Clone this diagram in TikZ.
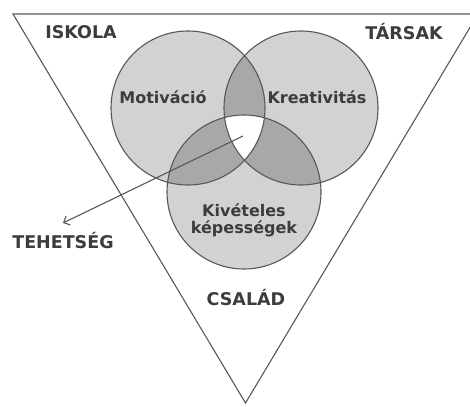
\documentclass[tikz,border=0pt]{standalone}
\usepackage{fontspec}
\newfontfamily\lblfont{DejaVu Sans}
\usetikzlibrary{arrows.meta}
\definecolor{ink}{HTML}{3C3C3C}
\definecolor{edge}{HTML}{555A55}
\definecolor{light}{HTML}{D2D2D2}
\definecolor{mid}{HTML}{A8A8A8}
\tikzset{
  inner/.style={font=\lblfont\bfseries\fontsize{16}{19}\selectfont, text=ink, align=center},
  outer/.style={font=\lblfont\bfseries\fontsize{17.5}{20}\selectfont, text=ink},
  outline/.style={draw=edge, line width=1.1pt},
  pointer/.style={draw=edge, line width=1.1pt, -{Straight Barb[length=5pt,width=10pt]}},
}
\begin{document}
\begin{tikzpicture}[x=1pt,y=-1pt]
\useasboundingbox (0,0) rectangle (470,406);
\fill[white] (0,0) rectangle (470,406);
% triangle
\coordinate (tl) at (13,14);
\coordinate (tr) at (478,14);
\coordinate (ap) at (245.5,403);
\draw[outline] (tl) -- (tr) -- (ap) -- cycle;
% circle centres
\coordinate (cA) at (188,108);
\coordinate (cB) at (301,108);
\coordinate (cC) at (244,192);
\def\R{77pt}
\fill[light] (cA) circle[radius=\R];
\fill[light] (cB) circle[radius=\R];
\fill[light] (cC) circle[radius=\R];
\begin{scope}
  \clip (cA) circle[radius=\R];
  \fill[mid] (cB) circle[radius=\R];
  \fill[mid] (cC) circle[radius=\R];
\end{scope}
\begin{scope}
  \clip (cB) circle[radius=\R];
  \fill[mid] (cC) circle[radius=\R];
\end{scope}
\begin{scope}
  \clip (cA) circle[radius=\R];
  \clip (cB) circle[radius=\R];
  \fill[white] (cC) circle[radius=\R];
\end{scope}
\draw[outline] (cA) circle[radius=\R];
\draw[outline] (cB) circle[radius=\R];
\draw[outline] (cC) circle[radius=\R];
% labels
\node[outer] (isk) at (81,32) {ISKOLA};
\node[outer] (tar) at (404,32) {TÁRSAK};
\node[inner] (mot) at (163,97) {Motiváció};
\node[inner] (kre) at (317,97) {Kreativitás};
\node[inner] (kiv) at (244,220) {Kivételes\\[-2pt]képességek};
\node[outer] (csa) at (246,298) {CSALÁD};
\node[outer] (teh) at (63,241) {TEHETSÉG};
% arrow
\coordinate (p) at (243,136);
\coordinate (tip) at (63,223);
\draw[pointer] (p) -- (tip);
\end{tikzpicture}
\end{document}
